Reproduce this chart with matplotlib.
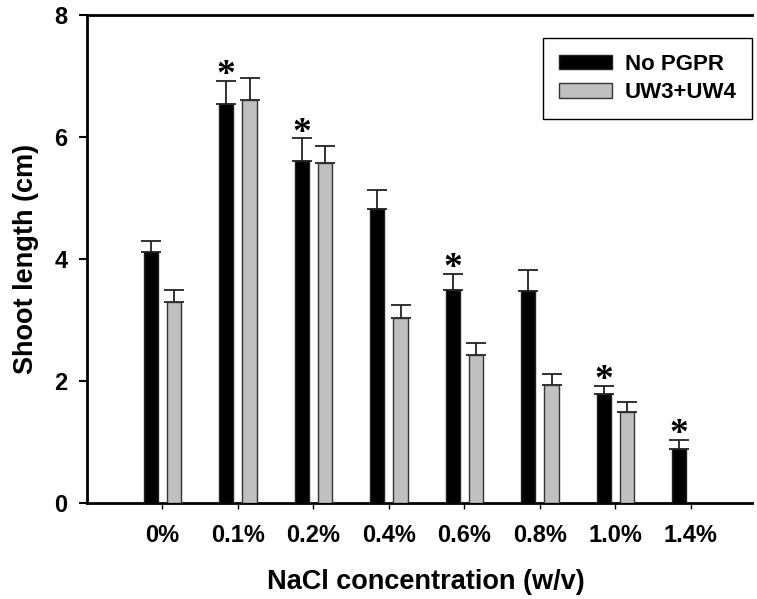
import matplotlib
matplotlib.use("Agg")
import matplotlib.pyplot as plt
import numpy as np
from matplotlib.patches import Patch

plt.rcParams['font.family'] = ['Liberation Sans', 'DejaVu Sans']

categories = ["0%", "0.1%", "0.2%", "0.4%", "0.6%", "0.8%", "1.0%", "1.4%"]
no_pgpr = [4.11, 6.54, 5.61, 4.82, 3.49, 3.47, 1.78, 0.89]
no_pgpr_err = [0.19, 0.38, 0.37, 0.31, 0.27, 0.35, 0.14, 0.15]
uw = [3.30, 6.61, 5.57, 3.03, 2.43, 1.94, 1.50, np.nan]
uw_err = [0.20, 0.36, 0.29, 0.22, 0.20, 0.18, 0.16, np.nan]
significant = [False, True, True, False, True, False, True, True]

fig = plt.figure(figsize=(7.57, 5.99), dpi=100)
ax = fig.add_axes([87/757, 1-503/599, 665/757, 488/599])

x = np.arange(len(categories))
w = 0.19
off = 0.155
ax.bar(x - off, no_pgpr, w, color='black', edgecolor='#222222', linewidth=1, zorder=3)
ax.bar(x + off, uw, w, color='#c0c0c0', edgecolor='#333333', linewidth=1, zorder=3)
ax.errorbar(x - off, no_pgpr, yerr=[np.zeros(len(x)), no_pgpr_err], fmt='none',
            ecolor='#222222', elinewidth=1.3, capsize=7, capthick=1.3, zorder=2)
uw_arr = np.array(uw)
mask = ~np.isnan(uw_arr)
ax.errorbar((x + off)[mask], uw_arr[mask], yerr=[np.zeros(mask.sum()), np.array(uw_err)[mask]],
            fmt='none', ecolor='#222222', elinewidth=1.3, capsize=7, capthick=1.3, zorder=2)

for i, s in enumerate(significant):
    if s:
        ax.annotate('*', (x[i] - off, no_pgpr[i] + no_pgpr_err[i]), xytext=(0, -9),
                    textcoords='offset points', ha='center', va='bottom', fontsize=27,
                    family='Liberation Serif', fontweight='bold')

ax.set_xlim(-1, 7.81)
ax.set_ylim(0, 8)
ax.set_yticks([0, 2, 4, 6, 8])
ax.set_xticks(x)
ax.set_xticklabels(categories)
for lab in ax.get_xticklabels() + ax.get_yticklabels():
    lab.set_fontweight('bold')
    lab.set_fontsize(17)
ax.tick_params(axis='y', direction='out', length=6, width=1.5, pad=8)
ax.tick_params(axis='x', direction='out', length=4, width=1, pad=11)

ax.spines['right'].set_visible(False)
for sp in ['left', 'bottom', 'top']:
    ax.spines[sp].set_linewidth(2)

ax.set_xlabel('NaCl concentration (w/v)', fontsize=19.5, fontweight='bold', labelpad=14)
ax.xaxis.set_label_coords(0.51, -0.135)
ax.set_ylabel('Shoot length (cm)', fontsize=19.5, fontweight='bold', labelpad=11)

handles = [Patch(facecolor='black', edgecolor='#222222'),
           Patch(facecolor='#c0c0c0', edgecolor='#333333')]
leg = ax.legend(handles, ['No PGPR', 'UW3+UW4'], loc='upper right',
                bbox_to_anchor=(1.0, (503-38)/488), borderaxespad=0,
                prop={'weight': 'bold', 'size': 16},
                frameon=True, fancybox=False, edgecolor='black', framealpha=1,
                handlelength=2.38, handleheight=0.6, borderpad=0.7, labelspacing=0.35,
                handletextpad=0.58)
leg.get_frame().set_linewidth(1)

fig.savefig('out.png', dpi=100)
